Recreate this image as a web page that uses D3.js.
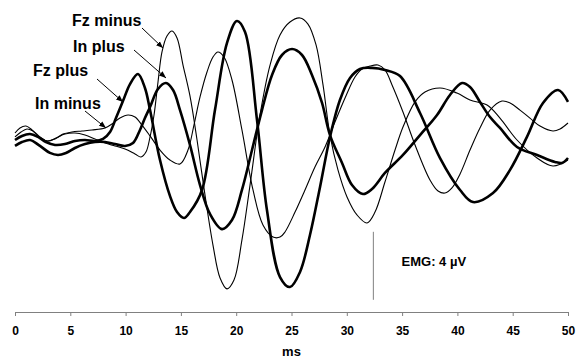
<!DOCTYPE html>
<html>
<head>
<meta charset="utf-8">
<script src="https://cdn.jsdelivr.net/npm/d3@7"></script>
<style>
  html, body { margin: 0; padding: 0; background: #fff; }
  svg { display: block; font-family: "Liberation Sans", Arial, Helvetica, sans-serif; }
</style>
</head>
<body>
<svg id="chart" width="578" height="358"></svg>
<script>
// Averaged EMG traces, time in ms, amplitude in µV
const fzPlus = [[0,0],[0.63,0.24],[1.36,0.35],[2.08,0.18],[2.80,-0.12],[3.62,-0.29],[4.52,-0.24],[5.42,-0.06],[6.33,0],[7.23,-0.06],[7.96,0.06],[8.59,0.47],[9.13,1.29],[9.76,2.29],[10.40,3.29],[11.12,3.88],[11.75,3.06],[12.21,1.76],[13.11,-1.18],[14.01,-3.29],[14.65,-4.24],[15.28,-4.59],[15.82,-4.24],[16.91,-2.94],[18.08,1.76],[19.17,5.71],[20.07,7.00],[20.80,6.35],[21.88,1.18],[22.78,-4.12],[23.96,-8.06],[24.86,-8.65],[25.77,-7.76],[26.67,-5.59],[27.58,-2.76],[28.48,0.18],[29.38,2.35],[30.29,3.65],[31.19,4.18],[32.28,4.24],[33.45,4.12],[34.81,3.76],[36.62,1.59],[38.43,-1.06],[40.24,-2.94],[41.41,-3.65],[43.22,-3.12],[44.76,-1.76],[46.29,0.18],[47.74,2.18],[49.10,2.94],[50,2.24]];

const inPlus = [[0,-0.35],[0.63,-0.12],[1.36,0],[2.26,-0.35],[3.16,-0.76],[3.89,-0.88],[4.61,-0.76],[5.42,-0.47],[6.33,-0.24],[7.23,-0.12],[8.14,-0.12],[9.04,-0.24],[9.95,-0.35],[10.67,-0.18],[11.30,0.59],[11.75,1.29],[12.21,1.94],[12.93,3.00],[13.65,3.35],[14.29,2.94],[14.92,1.76],[15.82,-0.29],[16.73,-2.65],[17.63,-4.35],[18.72,-5.24],[19.62,-4.71],[20.52,-2.94],[21.43,-0.59],[22.33,1.76],[23.24,3.82],[24.14,5.00],[25.05,5.35],[25.95,5.00],[26.85,3.82],[27.76,2.18],[28.48,0.29],[29.57,-1.35],[30.47,-2.65],[31.46,-3.18],[32.28,-2.88],[33.45,-1.94],[35.08,-0.88],[36.62,0.29],[38.16,1.47],[39.33,2.65],[40.42,3.35],[41.14,3.12],[42.04,2.24],[42.95,1.35],[43.85,0.71],[45.39,-0.41],[47.20,-0.88],[48.82,-1.29],[49.46,-1.35],[50,-1.06]];

const fzMinus = [[0,0.41],[0.45,0.71],[0.99,0.82],[1.54,0.59],[2.26,0.12],[2.98,-0.06],[3.71,0.12],[4.52,0.35],[5.42,0.41],[6.33,0.29],[7.23,0.06],[8.14,-0.18],[9.04,-0.35],[9.95,-0.53],[10.85,-0.82],[11.39,-1.00],[11.84,-0.71],[12.21,0.18],[12.57,1.47],[12.93,3.41],[13.29,5.18],[13.74,6.12],[14.20,6.41],[14.65,6.00],[15.19,4.41],[15.82,2.59],[16.46,0],[17.18,-3.24],[17.90,-6.18],[18.54,-8.12],[19.17,-8.76],[19.80,-8.24],[20.52,-5.88],[21.25,-2.65],[22.15,1.47],[23.06,4.41],[23.96,6.18],[24.86,6.94],[25.77,7.18],[26.49,6.82],[27.22,5.59],[27.85,3.24],[28.48,0.29],[29.20,-1.76],[30.02,-3.35],[30.92,-4.41],[31.83,-4.88],[32.55,-4.24],[33.45,-2.47],[34.36,-0.59],[35.08,0.76],[36.17,2.24],[37.07,2.82],[38.43,3.06],[39.96,2.76],[41.14,2.35],[42.68,2.06],[43.85,1.29],[45.39,0],[47.20,-1.06],[48.64,-1.53],[50,-1.18]];

const inMinus = [[0,0.18],[0.54,0.47],[1.08,0.65],[1.63,0.53],[2.26,0.18],[2.89,-0.06],[3.62,0.06],[4.34,0.35],[5.15,0.47],[6.06,0.53],[6.96,0.59],[8.14,0.71],[8.77,0.94],[9.49,1.29],[10.22,1.47],[10.85,1.35],[11.48,0.88],[12.21,0.24],[13.11,-0.59],[14.01,-1.18],[14.92,-1.41],[15.64,-0.59],[16.18,0.88],[16.73,2.53],[17.36,4.00],[17.90,4.88],[18.35,5.18],[18.90,4.88],[19.62,3.53],[20.52,0.59],[21.52,-2.94],[22.42,-5.00],[23.33,-5.71],[23.96,-5.71],[24.41,-5.41],[25.32,-4.24],[26.22,-2.94],[27.12,-1.59],[28.03,-0.41],[28.93,1.06],[29.84,2.47],[30.74,3.71],[31.37,4.18],[32.10,4.35],[32.82,4.41],[33.45,4.12],[34.09,3.24],[35.08,1.65],[36.17,-0.29],[37.52,-2.35],[38.25,-3.00],[38.88,-3.12],[39.51,-2.82],[40.24,-2.00],[41.14,-0.59],[42.04,0.71],[42.95,1.76],[44.03,2.29],[44.76,2.18],[45.66,1.76],[46.56,1.29],[47.47,0.82],[48.64,0.53],[49.28,0.65],[50,1.00]];

const xTicks = [0, 5, 10, 15, 20, 25, 30, 35, 40, 45, 50];
const xTitle = "ms";

// Calibration bar: 4 µV
const scaleBarLabel = "EMG: 4 µV";
const scaleBarSize = 4;

// Chart layout
const svg = d3.select("#chart");
const x = d3.scaleLinear().domain([0, 50]).range([15, 568]);
const y = d3.scaleLinear().domain([-10, 8]).range([310, 4]);

const line = d3.line()
  .x(d => x(d[0]))
  .y(d => y(d[1]))
  .curve(d3.curveCatmullRom.alpha(0.5));

const traces = [
  { name: "In minus", data: inMinus, width: 1.1 },
  { name: "Fz minus", data: fzMinus, width: 1.1 },
  { name: "In plus",  data: inPlus,  width: 2.6 },
  { name: "Fz plus",  data: fzPlus,  width: 2.6 }
];

svg.append("g").selectAll("path")
  .data(traces)
  .join("path")
  .attr("d", d => line(d.data))
  .attr("fill", "none")
  .attr("stroke", "#000")
  .attr("stroke-width", d => d.width)
  .attr("stroke-linejoin", "round");

// x axis
const axis = svg.append("g")
  .attr("transform", "translate(0,312)")
  .call(d3.axisBottom(x).tickValues(xTicks).tickFormat(d3.format("d"))
    .tickSize(4).tickSizeOuter(0).tickPadding(10));
axis.select(".domain").attr("stroke", "#808080");
axis.selectAll(".tick line").attr("stroke", "#808080");
axis.selectAll(".tick text")
  .attr("fill", "#000")
  .style("font-size", "12px")
  .style("font-weight", "bold");

svg.append("text")
  .attr("x", x(25))
  .attr("y", 356)
  .attr("text-anchor", "middle")
  .style("font-size", "13px")
  .style("font-weight", "bold")
  .text(xTitle);

// calibration bar
const barT = 32.4, barBase = -9.4;
svg.append("line")
  .attr("x1", x(barT)).attr("x2", x(barT))
  .attr("y1", y(barBase)).attr("y2", y(barBase + scaleBarSize))
  .attr("stroke", "#808080")
  .attr("stroke-width", 1);
svg.append("text")
  .attr("x", x(34.95))
  .attr("y", 266)
  .style("font-size", "13px")
  .style("font-weight", "bold")
  .text(scaleBarLabel);

// trace labels with arrows
const defs = svg.append("defs");
defs.append("marker")
  .attr("id", "arrow")
  .attr("viewBox", "0 0 10 10")
  .attr("refX", 10).attr("refY", 5)
  .attr("markerWidth", 7).attr("markerHeight", 7)
  .attr("markerUnits", "userSpaceOnUse")
  .attr("orient", "auto")
  .append("path")
  .attr("d", "M0,1 L10,5 L0,9 Z")
  .attr("fill", "#000");

const labels = [
  { text: "Fz minus", tx: 72, ty: 26,  from: [142, 28],  to: [163, 48] },
  { text: "In plus",  tx: 73, ty: 52,  from: [134, 50],  to: [166, 78] },
  { text: "Fz plus",  tx: 33, ty: 76,  from: [97, 79],   to: [123, 102] },
  { text: "In minus", tx: 35, ty: 109, from: [85, 111],  to: [106, 128] }
];

const lab = svg.append("g");
lab.selectAll("line")
  .data(labels)
  .join("line")
  .attr("x1", d => d.from[0]).attr("y1", d => d.from[1])
  .attr("x2", d => d.to[0]).attr("y2", d => d.to[1])
  .attr("stroke", "#000")
  .attr("stroke-width", 1)
  .attr("marker-end", "url(#arrow)");
lab.selectAll("text")
  .data(labels)
  .join("text")
  .attr("x", d => d.tx).attr("y", d => d.ty)
  .style("font-size", "16px")
  .style("font-weight", "bold")
  .text(d => d.text);
</script>
</body>
</html>
